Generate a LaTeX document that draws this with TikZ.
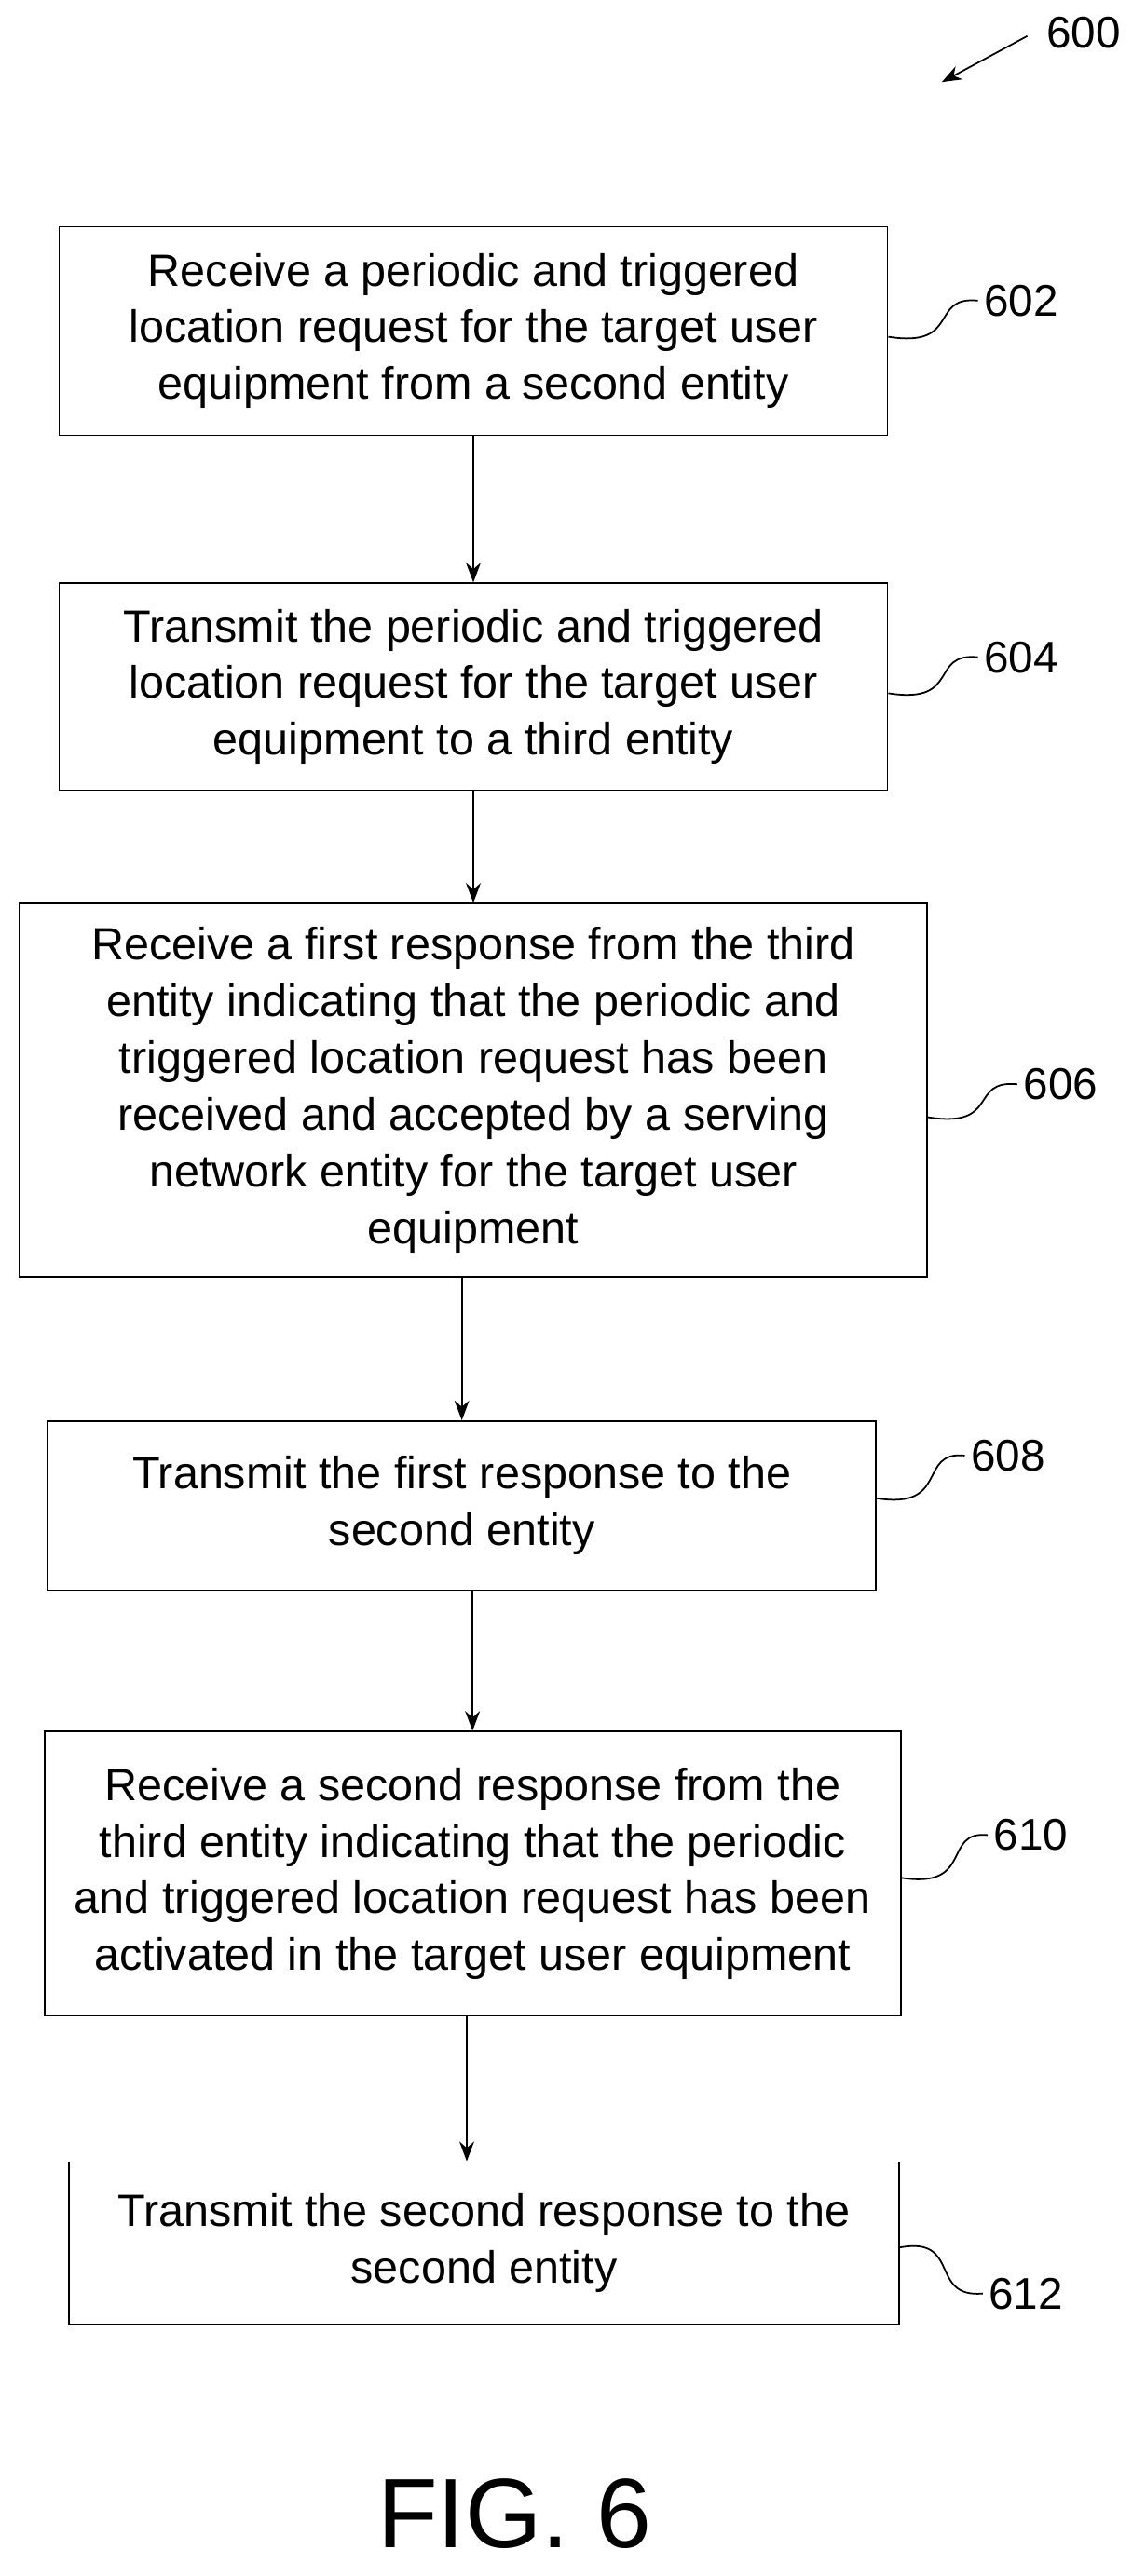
\documentclass[tikz,border=0pt]{standalone}
\usepackage{fontspec}
\setmainfont{Liberation Sans}
\usetikzlibrary{arrows.meta, calc}

\begin{document}
\begin{tikzpicture}[
    x = 1pt, y = -1pt,
    thick,
    stepbox/.style = {draw, line width = 1pt, align = center,
      font = \fontsize{27.5}{34.5}\selectfont, inner sep = 0pt},
    reflabel/.style = {font = \fontsize{27}{30}\selectfont, anchor = west},
    flow/.style = {-{Stealth[length = 12pt, width = 9pt]}, line width = 1.2pt},
    lead/.style = {line width = 1pt}
    ]
    \useasboundingbox (0, 0) rectangle (697, 1568);

    \node at (288, 201.5) [stepbox, minimum width = 504, minimum height = 127, name = s602]
      {Receive a periodic and triggered\\location request for the target user\\equipment from a second entity};
    \node at (288, 418) [stepbox, minimum width = 504, minimum height = 126, name = s604]
      {Transmit the periodic and triggered\\location request for the target user\\equipment to a third entity};
    \node at (288, 663.5) [stepbox, minimum width = 552, minimum height = 227, name = s606]
      {Receive a first response from the third\\entity indicating that the periodic and\\triggered location request has been\\received and accepted by a serving\\network entity for the target user\\equipment};
    \node at (281, 916.5) [stepbox, minimum width = 504, minimum height = 103, name = s608]
      {Transmit the first response to the\\second entity};
    \node at (287.5, 1140.5) [stepbox, minimum width = 521, minimum height = 173, name = s610]
      {Receive a second response from the\\third entity indicating that the periodic\\and triggered location request has been\\activated in the target user equipment};
    \node at (294.5, 1365.5) [stepbox, minimum width = 505, minimum height = 99, name = s612]
      {Transmit the second response to the\\second entity};

    \draw [flow] (s602) -- (s604);
    \draw [flow] (s604) -- (s606);
    \draw [flow] (s606.south -| s608) -- (s608);
    \draw [flow] (s608.south -| s610) -- (s610);
    \draw [flow] (s610.south -| 284, 0) -- (284, 0 |- s612.north);

    % reference numerals
    \node at (595, 183) [reflabel, name = n602] {602};
    \node at (595, 400) [reflabel, name = n604] {604};
    \node at (619, 660) [reflabel, name = n606] {606};
    \node at (587, 886) [reflabel, name = n608] {608};
    \node at (601, 1117) [reflabel, name = n610] {610};
    \node at (598, 1396) [reflabel, name = n612] {612};

    \draw [lead] (s602.east |- 0, 205) .. controls (585, 212) and (565, 180) .. (n602.west);
    \draw [lead] (s604.east |- 0, 422) .. controls (585, 429) and (565, 397) .. (n604.west);
    \draw [lead] (s606.east |- 0, 680) .. controls (609, 687) and (589, 657) .. (n606.west);
    \draw [lead] (s608.east |- 0, 912) .. controls (578, 919) and (558, 883) .. (n608.west);
    \draw [lead] (s610.east |- 0, 1143) .. controls (593, 1150) and (573, 1114) .. (n610.west);
    \draw [lead] (s612.east |- 0, 1368) .. controls (585, 1361) and (565, 1399) .. (n612.west);

    \node at (633, 20) [reflabel, name = n600] {600};
    \draw [flow, line width = 1pt] (n600.west) ++(-8, 2) coordinate (t600) -- ++(-52, 28);

    \node at (313, 1530) [font = \fontsize{60}{66}\selectfont, name = fig] {FIG. 6};
\end{tikzpicture}
\end{document}
